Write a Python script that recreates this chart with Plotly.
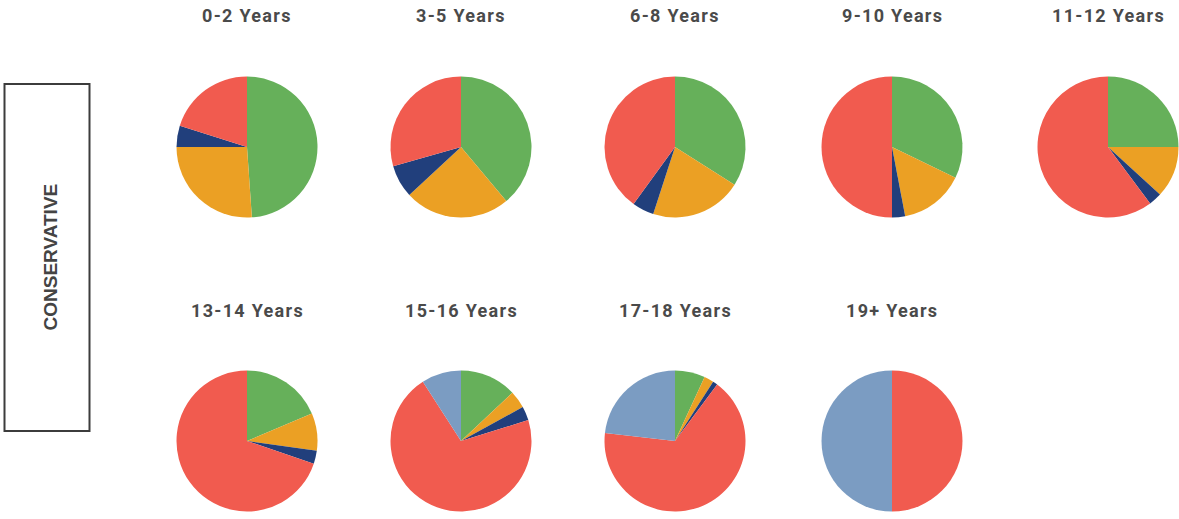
import plotly.graph_objects as go

W, H = 1179, 519

titles = ["0-2 Years", "3-5 Years", "6-8 Years", "9-10 Years", "11-12 Years",
          "13-14 Years", "15-16 Years", "17-18 Years", "19+ Years"]
segments = ["Green", "Orange", "Dark Blue", "Red", "Light Blue"]
colors = ["#66B05A", "#EBA024", "#213F7C", "#F15B4F", "#7B9CC2"]

green      = [48.9, 38.9, 34.0, 32.2, 25.0, 18.6, 13.0, 6.9, 0.0]
orange     = [26.1, 24.2, 21.0, 14.8, 11.8,  8.6,  4.0, 2.2, 0.0]
dark_blue  = [ 4.9,  7.5,  5.0,  3.0,  3.0,  3.0,  3.2, 1.1, 0.0]
red        = [20.1, 29.4, 40.0, 50.0, 60.2, 69.8, 70.7, 66.6, 50.0]
light_blue = [ 0.0,  0.0,  0.0,  0.0,  0.0,  0.0,  9.1, 23.2, 50.0]

col_cx = [247, 461, 675, 892, 1108]
row_cy = [147, 441]
row_title_y = [16, 310]
R = 70.5

fig = go.Figure()
for i, t in enumerate(titles):
    r, c = divmod(i, 5)
    cx, cy = col_cx[c], row_cy[r]
    vals = [green[i], orange[i], dark_blue[i], red[i], light_blue[i]]
    fig.add_trace(go.Pie(
        labels=segments, values=vals, sort=False, direction="clockwise",
        rotation=0, marker=dict(colors=colors, line=dict(width=0)),
        textinfo="none", hoverinfo="label+percent", showlegend=False,
        domain=dict(x=[(cx - R) / W, min(1, (cx + R) / W)],
                    y=[(H - cy - R) / H, (H - cy + R) / H]),
    ))
    fig.add_annotation(text='<span style="letter-spacing:1.3px">' + t + '</span>',
                       x=cx / W, y=1 - row_title_y[r] / H,
                       xref="paper", yref="paper", showarrow=False,
                       xanchor="center", yanchor="middle",
                       font=dict(family="Roboto", size=18, color="#4A4A4A", weight="bold"))

fig.add_shape(type="rect", xref="paper", yref="paper",
              x0=4.5 / W, x1=89.5 / W, y0=1 - 431 / H, y1=1 - 84 / H,
              line=dict(color="#3C3C3C", width=2), fillcolor="rgba(0,0,0,0)")
fig.add_annotation(text="CONSERVATIVE", x=50 / W, y=1 - 257.5 / H, xref="paper", yref="paper",
                   showarrow=False, textangle=-90, xanchor="center", yanchor="middle",
                   font=dict(family="Liberation Sans", size=19, color="#444444", weight="bold"))

fig.update_layout(width=W, height=H, margin=dict(l=0, r=0, t=0, b=0),
                  paper_bgcolor="white", plot_bgcolor="white")
fig.write_html("out.html", config={"displayModeBar": False},
               post_script="document.body.style.margin='0';document.body.style.padding='0';"
                           "document.body.style.overflow='hidden';")
